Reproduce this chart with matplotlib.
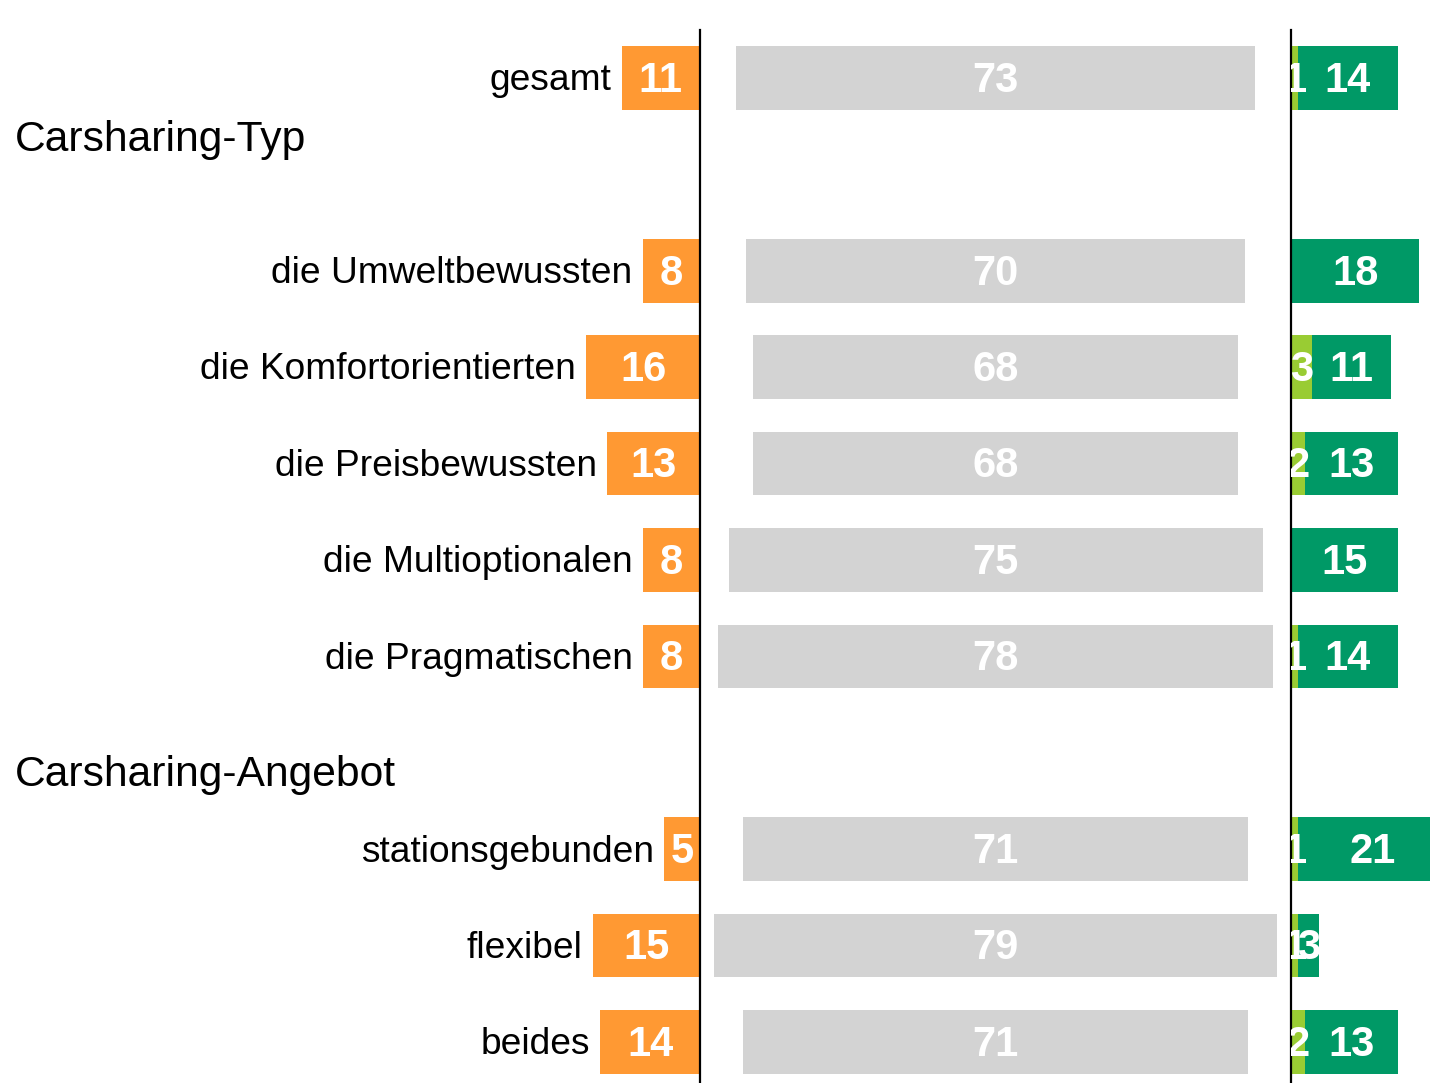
import matplotlib
matplotlib.use("Agg")
import matplotlib.pyplot as plt

plt.rcParams['font.family'] = ['Liberation Sans', 'DejaVu Sans']

# Data
labels = ["gesamt", "die Umweltbewussten", "die Komfortorientierten",
          "die Preisbewussten", "die Multioptionalen", "die Pragmatischen",
          "stationsgebunden", "flexibel", "beides"]
rows = [0, 2, 3, 4, 5, 6, 8, 9, 10]
headings = ["Carsharing-Typ", "Carsharing-Angebot"]
heading_rows = [0.61, 7.2]
orange_vals = [11, 8, 16, 13, 8, 8, 5, 15, 14]
gray_vals = [73, 70, 68, 68, 75, 78, 71, 79, 71]
light_green_vals = [1, 0, 3, 2, 0, 1, 1, 1, 2]
dark_green_vals = [14, 18, 11, 13, 15, 14, 21, 3, 13]

ORANGE = "#FF9933"
GRAY = "#D3D3D3"
LGREEN = "#99CC33"
DGREEN = "#009966"

W, H = 1430, 1083
fig = plt.figure(figsize=(W / 100, H / 100), dpi=100)

PX = 7.12  # px per unit
top_px, bot_px = 30, 1083
ax_h = (bot_px - top_px) / H
ylim = (10.425, -0.498)
bh = 0.66

def add_ax(x0, x1):
    ax = fig.add_axes([x0 / W, 0, (x1 - x0) / W, ax_h])
    ax.set_ylim(*ylim)
    ax.set_xticks([])
    ax.set_yticks([])
    for s in ax.spines.values():
        s.set_visible(False)
    ax.patch.set_alpha(0)
    return ax

axL = add_ax(0, 700)
axM = add_ax(700, 1291)
axR = add_ax(1291, 1430)

axL.set_xlim(700 / PX, 0)
axM.set_xlim(0, 591 / PX)
axR.set_xlim(0, 139 / PX)

for ax in (axM, axR):
    ax.spines['left'].set_visible(True)
    ax.spines['left'].set_linewidth(1.6)
    ax.spines['left'].set_color('black')

valfont = dict(color='white', fontsize=30, fontweight='bold', ha='center', va='center')
DY = -2  # points, small downward shift for vertical centring

def val(ax, x, y, s, clip=False):
    t = ax.annotate(s, (x, y), xytext=(0, DY), textcoords='offset points', **valfont)
    if clip:
        t.set_clip_on(True)
        t.set_clip_box(ax.bbox)
    return t

# Left: orange
axL.barh(rows, orange_vals, height=bh, color=ORANGE, left=0)
for r, v, lab in zip(rows, orange_vals, labels):
    val(axL, v / 2, r, str(v))
    axL.annotate(lab, (v, r), xytext=(-7.5, DY), textcoords='offset points',
                 ha='right', va='center', fontsize=26.7, color='black')

for hl, hr in zip(headings, heading_rows):
    axL.annotate(hl, (15 / 700, hr), xycoords=axL.get_yaxis_transform(),
                 xytext=(0, DY), textcoords='offset points',
                 ha='left', va='center', fontsize=30.7, color='black')

# Middle: gray centered
mid = (591 / PX) / 2
lefts = [mid - v / 2 for v in gray_vals]
axM.barh(rows, gray_vals, height=bh, left=lefts, color=GRAY)
for r, v in zip(rows, gray_vals):
    val(axM, mid, r, str(v))

# Right: stacked greens
axR.barh(rows, light_green_vals, height=bh, color=LGREEN)
axR.barh(rows, dark_green_vals, height=bh, left=light_green_vals, color=DGREEN)
for r, lv, dv in zip(rows, light_green_vals, dark_green_vals):
    if lv > 0:
        val(axR, lv / 2, r, str(lv), clip=True)
    val(axR, lv + dv / 2, r, str(dv))

fig.savefig("out.png", dpi=100)
